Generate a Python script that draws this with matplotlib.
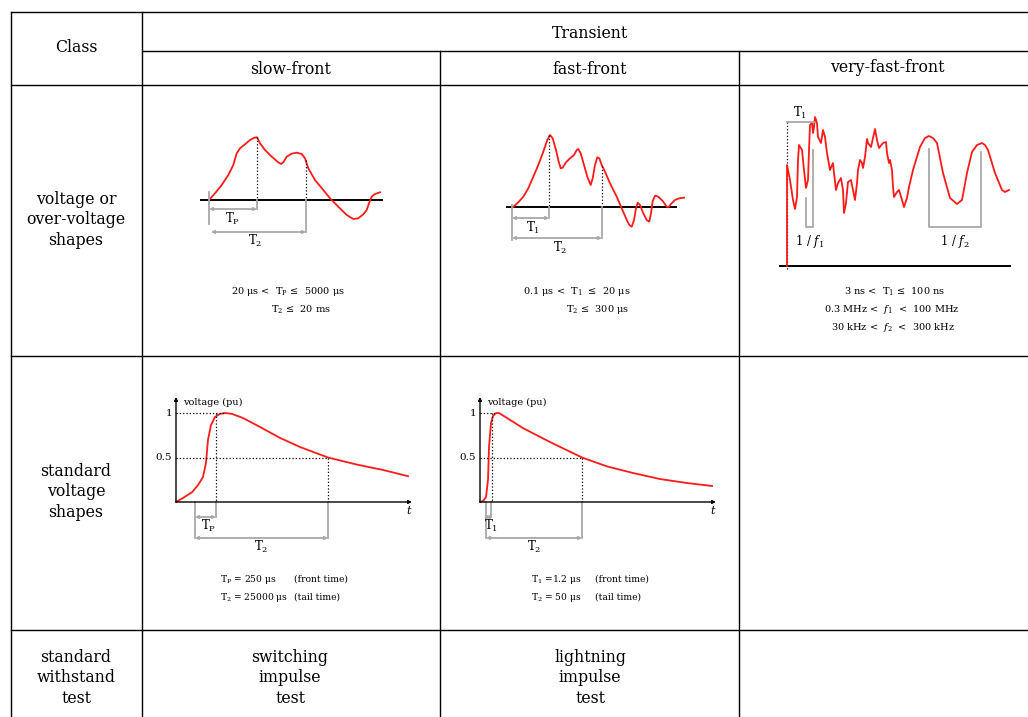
import matplotlib
matplotlib.use("Agg")
import matplotlib.pyplot as plt

plt.rcParams["font.family"] = ["DejaVu Serif"]
plt.rcParams["mathtext.fontset"] = "custom"
plt.rcParams["mathtext.rm"] = "DejaVu Serif"
plt.rcParams["mathtext.it"] = "DejaVu Serif:italic"

W, H = 1028, 717
RED = "#ff1a1a"
GRAY = "#a8a8a8"

# ---- waveform data (local units: x to the right, y up from the baseline) ----
# slow-front transient
slow_x = [0, 6, 12.7, 19.3, 24.3, 27.7, 31, 36, 41, 45.3, 48, 51, 56, 62.7, 69.3, 72, 74.3,
          77.7, 82.7, 87.7, 92.7, 96, 99.3, 106, 114.3, 121, 129.3, 137.7, 144.3, 149.3,
          154.3, 157.7, 160, 162.7, 166, 171]
slow_y = [0, 6.7, 15, 25, 35, 46.7, 51.7, 55.7, 60, 62.3, 62.7, 56.7, 50, 43.3, 37.7, 36, 37.7,
          43.3, 46.3, 47.3, 46, 41.7, 31.7, 20, 10, 1.7, -6.7, -15, -19, -18.3,
          -14.3, -10, -3.3, 3.3, 6, 7.7]
slow_tp, slow_t2 = 48, 97

# fast-front transient
fast_x = [0, 5.3, 10.3, 15.3, 20.3, 25.3, 30.3, 34.3, 37, 39.7, 43, 45.7, 47.7, 49.7, 53, 57,
          61, 63.7, 65.3, 67.7, 71, 74.3, 77.7, 79.7, 82, 84.3, 86.3, 88.7, 92, 97, 103.7,
          108.7, 113, 116.3, 118.7, 121, 123, 124.7, 127, 130.3, 133.7, 136.3, 138, 139.7,
          142, 145.3, 149.7, 153.7, 155.3, 157.7, 162, 166.3, 171]
fast_y = [0, 4.7, 10.3, 18.7, 30.3, 42, 55.3, 67, 72, 68.7, 57, 45.3, 38.7, 39.3, 44.7, 48.7,
          52, 57, 58, 53.7, 42, 30.3, 22, 28.7, 42, 49.7, 48.7, 42, 35.3, 23.7, 10.3,
          -1.3, -11.3, -18, -19.7, -13, -1.3, 4.3, 2, -6.3, -13, -14.7, -6.3, 6,
          11.3, 10.3, 6, 0.3, -0.3, 2.7, 7, 8.7, 9.3]
fast_t1, fast_t2 = 36, 89

# very-fast-front transient
vfast_x = [0, 0, 3, 6, 8, 10, 11, 12, 15, 17, 19, 21, 22, 23, 25, 26, 27, 28, 30, 31, 34, 36,
           38, 40, 43, 46, 47, 49, 51, 54, 56, 57, 59, 61, 64, 66, 68, 70, 71, 73, 75, 76,
           78, 80, 81, 84, 86, 88, 90, 92, 96, 99, 100, 102, 103, 105, 106, 107, 110, 112,
           115, 117, 120, 122, 126, 133, 138, 142, 146, 150, 156, 163, 170, 175, 180, 185,
           190, 195, 198, 201, 208, 215, 218, 222]
vfast_y = [0, 101, 86, 66, 57, 69, 106, 121, 116, 96, 78, 86, 116, 141, 143, 133, 139, 149,
           143, 129, 123, 136, 129, 113, 96, 103, 93, 76, 83, 88, 76, 53, 63, 84, 86, 76, 66,
           83, 96, 106, 103, 98, 109, 127, 123, 119, 128, 137, 126, 118, 123, 124, 113, 103,
           106, 96, 79, 69, 74, 76, 66, 59, 68, 79, 96, 119, 128, 130, 128, 123, 93, 68, 62,
           66, 93, 114, 121, 123, 121, 116, 93, 76, 74, 76]
vfast_f1 = (19, 26)
vfast_f2 = (142, 194)

# standard shapes (time in arbitrary units, voltage in pu)
sw_t = [0, 7, 16, 22, 27, 30, 32, 35, 39, 44, 49, 56, 67, 84, 104, 124, 152, 181, 207, 232]
sw_v = [0, 0.045, 0.11, 0.19, 0.28, 0.44, 0.70, 0.865, 0.955, 0.99, 1.0, 0.99, 0.944, 0.843,
        0.72, 0.618, 0.5, 0.42, 0.36, 0.29]
sw_tp, sw_t2 = 40, 152

li_t = [0, 3, 6, 8, 9, 11, 13, 16, 19, 27, 43, 70, 102, 127, 153, 180, 207, 232]
li_v = [0, 0.01, 0.056, 0.247, 0.618, 0.888, 0.966, 1.0, 1.0, 0.944, 0.83, 0.674, 0.5, 0.4,
        0.326, 0.258, 0.213, 0.18]
li_t1, li_t2 = 12, 102

fig = plt.figure(figsize=(W / 100, H / 100), dpi=100)
ax = fig.add_axes([0, 0, 1, 1])
ax.set_xlim(0, W)
ax.set_ylim(H, 0)
ax.axis("off")


def panel(x0, y0, sx, sy, xlim, ylim):
    # axes whose data origin sits at pixel (x0, y0) with sx, sy pixels per unit
    left = x0 + xlim[0] * sx
    right = x0 + xlim[1] * sx
    top = y0 - ylim[1] * sy
    bottom = y0 - ylim[0] * sy
    a = fig.add_axes([left / W, 1 - bottom / H, (right - left) / W, (bottom - top) / H])
    a.set_xlim(*xlim)
    a.set_ylim(*ylim)
    a.axis("off")
    return a


def dim(a, x1, x2, y):
    a.annotate("", xy=(x2, y), xytext=(x1, y),
               arrowprops=dict(arrowstyle="<|-|>", color=GRAY, lw=1.3,
                               mutation_scale=4, shrinkA=0, shrinkB=0))


# ---- table grid ----
lk = dict(color="black", lw=1.0)
ax.plot([11, W], [12, 12], **lk)
ax.plot([142, W], [51, 51], **lk)
for y in (85, 356, 630):
    ax.plot([11, W], [y, y], **lk)
ax.plot([11, 11], [12, H], **lk)
ax.plot([142, 142], [12, H], **lk)
ax.plot([440, 440], [51, H], **lk)
ax.plot([739, 739], [51, H], **lk)

hk = dict(ha="center", va="center", fontsize=11.3, linespacing=1.3)
ax.text(76, 47, "Class", **hk)
ax.text(590, 33, "Transient", **hk)
ax.text(291, 69, "slow-front", **hk)
ax.text(590, 69, "fast-front", **hk)
ax.text(887, 67, "very-fast-front", **hk)
ax.text(76, 220, "voltage or\nover-voltage\nshapes", **hk)
ax.text(76, 492, "standard\nvoltage\nshapes", **hk)
ax.text(76, 678, "standard\nwithstand\ntest", **hk)
ax.text(290, 678, "switching\nimpulse\ntest", **hk)
ax.text(590, 678, "lightning\nimpulse\ntest", **hk)

sk = dict(fontsize=7, va="center")
tk = dict(fontsize=6.6, va="center", ha="left")

# ---- slow-front shape ----
a = panel(209, 200, 1, 1, (-20, 180), (-50, 75))
a.plot([-8, 173], [0, 0], color="black", lw=1.4)
a.plot(slow_x, slow_y, color=RED, lw=1.3)
a.plot([slow_tp, slow_tp], [62.7, 0], color="black", lw=0.9, ls=":")
a.plot([slow_t2, slow_t2], [40, 0], color="black", lw=0.9, ls=":")
a.plot([slow_tp, slow_tp], [0, -9], color=GRAY, lw=1.3)
a.plot([slow_t2, slow_t2], [0, -32], color=GRAY, lw=1.3)
a.plot([0, 0], [8, -24], color=GRAY, lw=1.3)
dim(a, 0, slow_tp, -9)
dim(a, 2, slow_t2, -32)
a.text(24, -19, r"T$_\mathrm{P}$", ha="center", va="center", fontsize=8.5)
a.text(46, -41, r"T$_\mathrm{2}$", ha="center", va="center", fontsize=8.5)
ax.text(231, 292, r"20 μs <  T$_\mathrm{P}$ ≤  5000 μs", ha="left", **sk)
ax.text(271, 310, r"T$_\mathrm{2}$ ≤  20 ms", ha="left", **sk)

# ---- fast-front shape ----
a = panel(513, 207, 1, 1, (-20, 180), (-50, 80))
a.plot([-6, 163], [0, 0], color="black", lw=1.4)
a.plot(fast_x, fast_y, color=RED, lw=1.3)
a.plot([fast_t1, fast_t1], [72, 0], color="black", lw=0.9, ls=":")
a.plot([fast_t2, fast_t2], [41, 0], color="black", lw=0.9, ls=":")
a.plot([fast_t1, fast_t1], [0, -11], color=GRAY, lw=1.3)
a.plot([fast_t2, fast_t2], [0, -31], color=GRAY, lw=1.3)
a.plot([-1, -1], [2, -33], color=GRAY, lw=1.3)
dim(a, -1, fast_t1, -11)
dim(a, -1, fast_t2, -31)
a.text(20, -21, r"T$_\mathrm{1}$", ha="center", va="center", fontsize=8.5)
a.text(47, -41, r"T$_\mathrm{2}$", ha="center", va="center", fontsize=8.5)
ax.text(523, 292, r"0.1 μs <  T$_\mathrm{1}$  ≤  20 μs", ha="left", **sk)
ax.text(566, 310, r"T$_\mathrm{2}$ ≤  300 μs", ha="left", **sk)

# ---- very-fast-front shape ----
a = panel(787, 266, 1, 1, (-10, 230), (-10, 160))
a.plot([-7, 223], [0, 0], color="black", lw=1.4)
a.plot([0, 0], [144, -4], color="black", lw=0.9, ls=":")
a.plot(vfast_x, vfast_y, color=RED, lw=1.3)
a.plot([0, 27], [144, 144], color=GRAY, lw=1.3)
a.text(13, 153, r"T$_\mathrm{1}$", ha="center", va="center", fontsize=8.5)
a.plot([vfast_f1[0], vfast_f1[0], vfast_f1[1], vfast_f1[1]], [68, 39, 39, 116],
       color=GRAY, lw=1.3)
a.plot([vfast_f2[0], vfast_f2[0], vfast_f2[1], vfast_f2[1]], [117, 39, 39, 114],
       color=GRAY, lw=1.3)
a.text(23, 25, r"1 / $\mathit{f}_\mathrm{1}$", ha="center", va="center", fontsize=8.5)
a.text(168, 25, r"1 / $\mathit{f}_\mathrm{2}$", ha="center", va="center", fontsize=8.5)
ax.text(895, 292, r"3 ns <  T$_\mathrm{1}$ ≤  100 ns", ha="center", **sk)
ax.text(892, 309, r"0.3 MHz <  $\mathit{f}_\mathrm{1}$  <  100 MHz", ha="center", **sk)
ax.text(893, 327, r"30 kHz <  $\mathit{f}_\mathrm{2}$  <  300 kHz", ha="center", **sk)


# ---- standard impulse shapes ----
def standard(x0, t, v, tfront, ttail, front_box, label):
    a = panel(x0, 502, 1, 89, (-30, 245), (-0.6, 1.25))
    a.annotate("", xy=(0, 1.18), xytext=(0, 0),
               arrowprops=dict(arrowstyle="-|>", color="black", lw=1.0,
                               mutation_scale=5, shrinkA=0, shrinkB=0))
    a.annotate("", xy=(236, 0), xytext=(0, 0),
               arrowprops=dict(arrowstyle="-|>", color="black", lw=1.0,
                               mutation_scale=5, shrinkA=0, shrinkB=0))
    a.text(7, 1.12, "voltage (pu)", ha="left", va="center", fontsize=7)
    a.text(-4, 1.0, "1", ha="right", va="center", fontsize=7.5)
    a.text(-4, 0.5, "0.5", ha="right", va="center", fontsize=7.5)
    a.text(233, -0.10, "t", ha="center", va="center", fontsize=8, style="italic")
    a.plot(t, v, color=RED, lw=1.3)
    peak_t = t[v.index(max(v))]
    a.plot([0, peak_t], [1, 1], color="black", lw=0.9, ls=":")
    a.plot([0, ttail], [0.5, 0.5], color="black", lw=0.9, ls=":")
    a.plot([tfront, tfront], [1, 0], color="black", lw=0.9, ls=":")
    a.plot([ttail, ttail], [0.5, 0], color="black", lw=0.9, ls=":")
    left = front_box[0]
    a.plot([left, left], [0, -0.404], color=GRAY, lw=1.3)
    a.plot([front_box[1], front_box[1]], [0, -0.169], color=GRAY, lw=1.3)
    a.plot([ttail, ttail], [0, -0.404], color=GRAY, lw=1.3)
    dim(a, left, front_box[1], -0.169)
    dim(a, left, ttail, -0.404)
    a.text((left + front_box[1]) / 2 + 3, -0.27, label, ha="center", va="center", fontsize=8.5)
    a.text((left + ttail) / 2, -0.51, r"T$_\mathrm{2}$", ha="center", va="center", fontsize=8.5)
    return a


standard(176, sw_t, sw_v, sw_tp, sw_t2, (19, sw_tp), r"T$_\mathrm{P}$")
standard(480, li_t, li_v, li_t1, li_t2, (6, 11), r"T$_\mathrm{1}$")

ax.text(220, 579, r"T$_\mathrm{P}$ = 250 μs", **tk)
ax.text(294, 579, "(front time)", **tk)
ax.text(220, 597, r"T$_\mathrm{2}$ = 25000 μs", **tk)
ax.text(294, 597, "(tail time)", **tk)
ax.text(531, 579, r"T$_\mathrm{1}$ =1.2 μs", **tk)
ax.text(595, 579, "(front time)", **tk)
ax.text(531, 597, r"T$_\mathrm{2}$ = 50 μs", **tk)
ax.text(595, 597, "(tail time)", **tk)

fig.savefig("out.png", dpi=100)
